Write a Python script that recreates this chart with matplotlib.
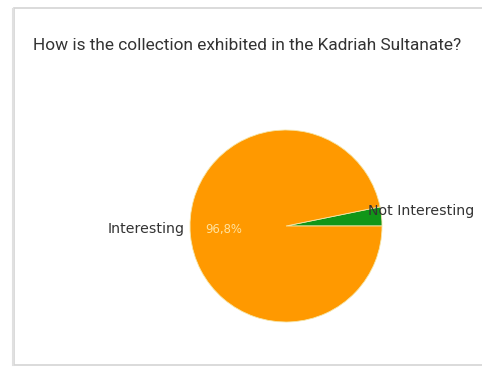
import matplotlib
matplotlib.use("Agg")
import matplotlib.pyplot as plt
from matplotlib.patches import Rectangle

title = "How is the collection exhibited in the Kadriah Sultanate?"
categories = ["Not Interesting", "Interesting"]
values = [3.2, 96.8]
colors = ["#109618", "#ff9900"]

W, H = 482, 367
fig = plt.figure(figsize=(W / 100, H / 100), dpi=100)
fig.patch.set_facecolor("white")
ax = fig.add_axes([0, 0, 1, 1])

cx, cy, r = 286, 226, 96
wedges, _ = ax.pie(values, colors=colors, startangle=0, counterclock=False,
                   center=(cx, cy), radius=r, frame=True,
                   wedgeprops=dict(edgecolor="#f5e6a8", linewidth=0.6))
ax.set_xlim(0, W)
ax.set_ylim(H, 0)
ax.set_aspect("equal")
ax.axis("off")

# card frame
ax.add_patch(Rectangle((14, 8), W, 357, facecolor="white", edgecolor="#d4d4d4", lw=1.2, zorder=-1))
ax.plot([12.5, 12.5], [9, 365], color="#e0e0e0", lw=1.5, zorder=-1)

ax.text(33, 45, title, fontsize=12.4, family="Roboto", color="#333333", va="center", ha="left")

ax.text(185, 229, categories[1], fontsize=10.2, family="DejaVu Sans", color="#333333",
        ha="right", va="center")
ax.text(205, 229, f"{values[1]:.1f}%".replace(".", ","), fontsize=8.4, family="DejaVu Sans",
        color="#ffe3a0", ha="left", va="center")
ax.text(368, 211, categories[0], fontsize=10.2, family="DejaVu Sans", color="#333333",
        ha="left", va="center")

fig.savefig("out.png", dpi=100)
